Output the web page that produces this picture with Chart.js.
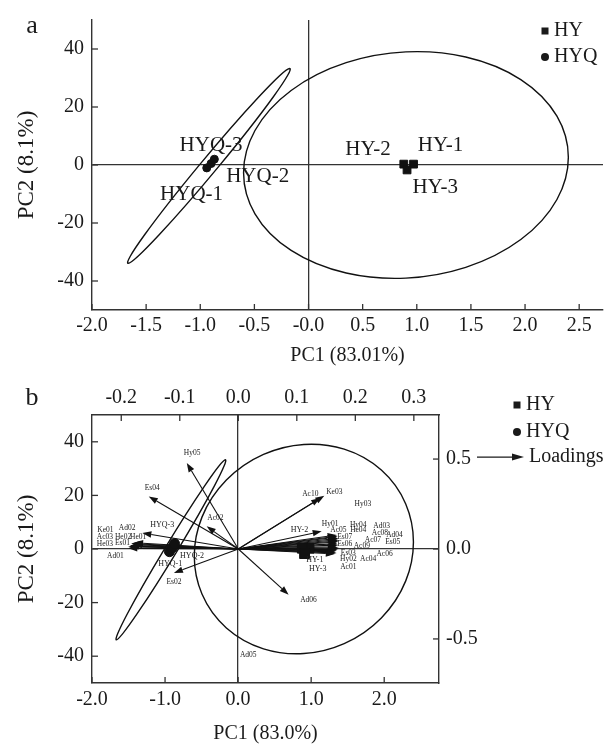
<!DOCTYPE html>
<html>
<head>
<meta charset="utf-8">
<script src="https://cdn.jsdelivr.net/npm/chart.js@4.4.1/dist/chart.umd.min.js"></script>
<style>
  html, body { margin: 0; padding: 0; background: #fff; }
  #wrap { position: relative; width: 610px; height: 747px; }
  canvas { position: absolute; left: 0; }
  #pca-a { top: 0; }
  #pca-b { top: 370px; }
</style>
</head>
<body>
<div id="wrap">
  <canvas id="pca-a" width="610" height="370"></canvas>
  <canvas id="pca-b" width="610" height="377"></canvas>
</div>
<script>
// sample scores (PC1, PC2)
const hyNames = ["HY-1", "HY-2", "HY-3"];
const hyPC1 = [0.97, 0.88, 0.91];
const hyPC2 = [0.3, 0.3, -1.7];
const hyqNames = ["HYQ-1", "HYQ-2", "HYQ-3"];
const hyqPC1 = [-0.94, -0.9, -0.87];
const hyqPC2 = [-1.0, 0.5, 2.0];

// confidence ellipses: centre and two conjugate half axes, in score units
const ellCx = [-0.92, 0.9];
const ellCy = [-0.3, 0];
const ellUx = [0.745, 1.5];
const ellUy = [33.6, 2.65];
const ellVx = [0.095, 0];
const ellVy = [0, 39];

// variable loadings (top / right axes)
const loadNames = ["Hy05", "Es04", "Ac02", "He01", "Es02", "Ke01", "Ad02", "Ac03", "He02", "He03", "Es01", "Ad01",
  "Ac10", "Ke03", "Hy03", "Hy01", "Ac05", "Hy04", "He04", "Ad03", "Ac08", "Ad04", "Es07", "Ac07", "Es06", "Ac09",
  "Es05", "Ac06", "Es03", "Hy02", "Ac04", "Ac01", "Ad06", "Ad05"];
const loadX = [-0.088, -0.153, -0.054, -0.164, -0.110, -0.183, -0.178, -0.185, -0.180, -0.188, -0.185, -0.188,
  0.140, 0.147, 0.213, 0.1425, 0.168, 0.170, 0.168, 0.171, 0.170, 0.172, 0.170, 0.169, 0.171, 0.168,
  0.172, 0.170, 0.168, 0.166, 0.168, 0.165, 0.086, 0.0];
const loadY = [0.478, 0.292, 0.126, 0.089, -0.133, 0.030, 0.035, 0.020, 0.025, 0.012, 0.016, 0.004,
  0.283, 0.296, 0.25, 0.098, 0.078, 0.072, 0.066, 0.060, 0.052, 0.046, 0.040, 0.030, 0.022, 0.012,
  0.006, -0.004, -0.010, -0.016, -0.022, -0.028, -0.254, -0.56];
const noArrow = ["Hy03", "Ad05"];

// where the names sit (loading units)
const loadLabX = [-0.079, -0.147, -0.039, -0.171, -0.110, -0.227, -0.190, -0.228, -0.197, -0.228, -0.198, -0.210,
  0.123, 0.164, 0.213, 0.157, 0.171, 0.205, 0.205, 0.245, 0.242, 0.267, 0.182, 0.230, 0.182, 0.211,
  0.264, 0.250, 0.188, 0.188, 0.222, 0.188, 0.120, 0.017];
const loadLabY = [0.535, 0.341, 0.174, 0.068, -0.186, 0.107, 0.118, 0.068, 0.068, 0.028, 0.033, -0.037,
  0.307, 0.314, 0.25, 0.139, 0.103, 0.135, 0.103, 0.126, 0.089, 0.079, 0.064, 0.052, 0.029, 0.018,
  0.037, -0.028, -0.022, -0.056, -0.056, -0.100, -0.282, -0.591];

// sample name positions (score units)
const hyLabA = [[1.22, 6.7], [0.55, 5.5], [1.17, -7.6]];
const hyqLabA = [[-1.08, -10.1], [-0.47, -4.1], [-0.9, 6.7]];
const hyLabB = [[1.05, -4.2], [0.84, 7.3], [1.09, -7.3]];
const hyqLabB = [[-0.93, -5.4], [-0.63, -2.5], [-1.04, 8.9]];

// tick values
const ticksAx = [-2.0, -1.5, -1.0, -0.5, 0.0, 0.5, 1.0, 1.5, 2.0, 2.5];
const ticksAy = [-40, -20, 0, 20, 40];
const ticksBx = [-2.0, -1.0, 0.0, 1.0, 2.0];
const ticksBy = [-40, -20, 0, 20, 40];
const ticksBx2 = [-0.2, -0.1, 0.0, 0.1, 0.2, 0.3];
const ticksBy2 = [-0.5, 0.0, 0.5];

const SERIF = "'Liberation Serif', 'Times New Roman', serif";
const INK = "#1a1a1a";
Chart.defaults.font.family = SERIF;
Chart.defaults.color = INK;

const toPoints = (xs, ys) => xs.map((x, i) => ({ x: x, y: ys[i] }));

const zeroGrid = {
  display: true,
  drawOnChartArea: true,
  drawTicks: false,
  lineWidth: 1.3,
  color: (c) => (c.tick && c.tick.value === 0 ? "#333" : "rgba(0,0,0,0)"),
};

const fixedTicks = (vals) => (s) => {
  s.ticks = vals.map((v) => ({ value: v }));
};

// short tick marks pointing into the plot
const inTicks = {
  id: "inTicks",
  afterDraw(chart) {
    const ctx = chart.ctx;
    const a = chart.chartArea;
    const len = 6;
    ctx.save();
    ctx.strokeStyle = "#333";
    ctx.lineWidth = 1.3;
    Object.values(chart.scales).forEach((s) => {
      s.ticks.forEach((t) => {
        const p = s.getPixelForValue(t.value);
        ctx.beginPath();
        if (s.position === "bottom") { ctx.moveTo(p, a.bottom); ctx.lineTo(p, a.bottom - len); }
        if (s.position === "top") { ctx.moveTo(p, a.top); ctx.lineTo(p, a.top + len); }
        if (s.position === "left") { ctx.moveTo(a.left, p); ctx.lineTo(a.left + len, p); }
        if (s.position === "right") { ctx.moveTo(a.right, p); ctx.lineTo(a.right - len, p); }
        ctx.stroke();
      });
    });
    ctx.restore();
  },
};

const ellipses = {
  id: "ellipses",
  beforeDatasetsDraw(chart) {
    const ctx = chart.ctx;
    const sx = chart.scales.x, sy = chart.scales.y;
    ctx.save();
    ctx.strokeStyle = "#111";
    ctx.lineWidth = 1.4;
    for (let i = 0; i < ellCx.length; i++) {
      const cx = sx.getPixelForValue(ellCx[i]);
      const cy = sy.getPixelForValue(ellCy[i]);
      const ux = sx.getPixelForValue(ellCx[i] + ellUx[i]) - cx;
      const uy = sy.getPixelForValue(ellCy[i] + ellUy[i]) - cy;
      const vx = sx.getPixelForValue(ellCx[i] + ellVx[i]) - cx;
      const vy = sy.getPixelForValue(ellCy[i] + ellVy[i]) - cy;
      ctx.beginPath();
      ctx.save();
      ctx.transform(ux, uy, vx, vy, cx, cy);
      ctx.arc(0, 0, 1, 0, 2 * Math.PI);
      ctx.restore();
      ctx.stroke();
    }
    ctx.restore();
  },
};

const arrows = {
  id: "arrows",
  beforeDatasetsDraw(chart) {
    const ctx = chart.ctx;
    const sx = chart.scales.x2, sy = chart.scales.y2;
    const ox = sx.getPixelForValue(0), oy = sy.getPixelForValue(0);
    ctx.save();
    ctx.strokeStyle = "#111";
    ctx.fillStyle = "#111";
    ctx.lineWidth = 1.1;
    loadNames.forEach((n, i) => {
      if (noArrow.includes(n)) return;
      const tx = sx.getPixelForValue(loadX[i]);
      const ty = sy.getPixelForValue(loadY[i]);
      const ang = Math.atan2(ty - oy, tx - ox);
      const hl = 9, hw = 3.2;
      const bx = tx - hl * Math.cos(ang), by = ty - hl * Math.sin(ang);
      ctx.beginPath();
      ctx.moveTo(ox, oy);
      ctx.lineTo(bx, by);
      ctx.stroke();
      ctx.beginPath();
      ctx.moveTo(tx, ty);
      ctx.lineTo(bx + hw * Math.sin(ang), by - hw * Math.cos(ang));
      ctx.lineTo(bx - hw * Math.sin(ang), by + hw * Math.cos(ang));
      ctx.closePath();
      ctx.fill();
    });
    ctx.restore();
  },
};

const drawText = (ctx, txt, x, y, size, align) => {
  ctx.font = size + "px " + SERIF;
  ctx.textAlign = align || "center";
  ctx.textBaseline = "middle";
  ctx.fillText(txt, x, y);
};

const scoreLabels = (hyLab, hyqLab, size) => ({
  id: "scoreLabels",
  afterDatasetsDraw(chart) {
    const ctx = chart.ctx;
    const sx = chart.scales.x, sy = chart.scales.y;
    ctx.save();
    ctx.fillStyle = INK;
    hyNames.forEach((n, i) => drawText(ctx, n, sx.getPixelForValue(hyLab[i][0]), sy.getPixelForValue(hyLab[i][1]), size));
    hyqNames.forEach((n, i) => drawText(ctx, n, sx.getPixelForValue(hyqLab[i][0]), sy.getPixelForValue(hyqLab[i][1]), size));
    ctx.restore();
  },
});

const loadLabels = {
  id: "loadLabels",
  afterDatasetsDraw(chart) {
    const ctx = chart.ctx;
    const sx = chart.scales.x2, sy = chart.scales.y2;
    ctx.save();
    ctx.fillStyle = INK;
    loadNames.forEach((n, i) => drawText(ctx, n, sx.getPixelForValue(loadLabX[i]), sy.getPixelForValue(loadLabY[i]), 7.5));
    ctx.restore();
  },
};

// panel letter + legend; pos = [letter y, legend marker x, HY row y, HYQ row y]
const decor = (letter, pos, withLoadings) => ({
  id: "decor",
  afterDraw(chart) {
    const ctx = chart.ctx;
    ctx.save();
    ctx.fillStyle = INK;
    ctx.strokeStyle = INK;
    drawText(ctx, letter, 32, pos[0], 26);
    ctx.fillRect(pos[1] - 3.5, pos[2] - 3.5, 7, 7);
    drawText(ctx, "HY", pos[1] + 9, pos[2], 20, "left");
    ctx.beginPath();
    ctx.arc(pos[1], pos[3], 4, 0, 2 * Math.PI);
    ctx.fill();
    drawText(ctx, "HYQ", pos[1] + 9, pos[3], 20, "left");
    if (withLoadings) {
      const y = chart.scales.y2.getPixelForValue(0.5) - 2;
      ctx.lineWidth = 1.2;
      ctx.beginPath();
      ctx.moveTo(477, y);
      ctx.lineTo(516, y);
      ctx.stroke();
      ctx.beginPath();
      ctx.moveTo(524, y);
      ctx.lineTo(512, y - 3.5);
      ctx.lineTo(512, y + 3.5);
      ctx.closePath();
      ctx.fill();
      drawText(ctx, "Loadings", 529, y, 20, "left");
    }
    ctx.restore();
  },
});

const axisFont = { size: 20 };
const titleFont = { size: 20 };
const yTitleFont = { size: 23 };

// ---- panel a ----
new Chart(document.getElementById("pca-a"), {
  type: "scatter",
  data: {
    datasets: [
      { label: "HY", data: toPoints(hyPC1, hyPC2), pointStyle: "rect", pointRadius: 5.5,
        backgroundColor: "#111", borderColor: "#111" },
      { label: "HYQ", data: toPoints(hyqPC1, hyqPC2), pointStyle: "circle", pointRadius: 4,
        backgroundColor: "#111", borderColor: "#111" },
    ],
  },
  options: {
    responsive: false,
    animation: false,
    layout: { padding: { top: 18, right: 7, left: 0, bottom: 0 } },
    plugins: { legend: { display: false }, tooltip: { enabled: false } },
    scales: {
      x: {
        type: "linear", min: -2, max: 2.72,
        afterBuildTicks: fixedTicks(ticksAx),
        afterFit: (s) => { s.height = 60; },
        grid: zeroGrid,
        border: { display: true, color: "#333", width: 1.4 },
        ticks: { font: axisFont, padding: 4, color: INK, maxRotation: 0,
          callback: (v) => (v === 0 ? "-0.0" : v.toFixed(1)) },
        title: { display: true, text: "PC1 (83.01%)", font: titleFont, color: INK, padding: { bottom: 2 } },
      },
      y: {
        type: "linear", min: -50, max: 50,
        afterBuildTicks: fixedTicks(ticksAy),
        afterFit: (s) => { s.width = 92; },
        grid: zeroGrid,
        border: { display: true, color: "#333", width: 1.4 },
        ticks: { font: axisFont, padding: 8, color: INK },
        title: { display: true, text: "PC2 (8.1%)", font: yTitleFont, color: INK, padding: { top: 13 } },
      },
    },
  },
  plugins: [ellipses, scoreLabels(hyLabA, hyqLabA, 21), inTicks, decor("a", [26, 545, 31, 57], false)],
});

// ---- panel b ----
new Chart(document.getElementById("pca-b"), {
  type: "scatter",
  data: {
    datasets: [
      { label: "HY", data: toPoints(hyPC1, hyPC2), pointStyle: "rect", pointRadius: 7,
        backgroundColor: "#111", borderColor: "#111" },
      { label: "HYQ", data: toPoints(hyqPC1, hyqPC2), pointStyle: "circle", pointRadius: 5,
        backgroundColor: "#111", borderColor: "#111" },
    ],
  },
  options: {
    responsive: false,
    animation: false,
    layout: { padding: 0 },
    plugins: { legend: { display: false }, tooltip: { enabled: false } },
    scales: {
      x: {
        type: "linear", position: "bottom", min: -2, max: 2.75,
        afterBuildTicks: fixedTicks(ticksBx),
        afterFit: (s) => { s.height = 64; },
        grid: zeroGrid,
        border: { display: true, color: "#333", width: 1.4 },
        ticks: { font: axisFont, padding: 5, color: INK, maxRotation: 0, callback: (v) => v.toFixed(1) },
        title: { display: true, text: "PC1 (83.0%)", font: titleFont, color: INK, padding: { bottom: 1 } },
      },
      x2: {
        type: "linear", position: "top", min: -0.25, max: 0.343,
        afterBuildTicks: fixedTicks(ticksBx2),
        afterFit: (s) => { s.height = 45; },
        grid: { display: false, drawTicks: false },
        border: { display: true, color: "#333", width: 1.4 },
        ticks: { font: axisFont, padding: 5, color: INK, maxRotation: 0, callback: (v) => v.toFixed(1) },
      },
      y: {
        type: "linear", position: "left", min: -50, max: 50,
        afterBuildTicks: fixedTicks(ticksBy),
        afterFit: (s) => { s.width = 92; },
        grid: zeroGrid,
        border: { display: true, color: "#333", width: 1.4 },
        ticks: { font: axisFont, padding: 8, color: INK },
        title: { display: true, text: "PC2 (8.1%)", font: yTitleFont, color: INK, padding: { top: 13 } },
      },
      y2: {
        type: "linear", position: "right", min: -0.745, max: 0.745,
        afterBuildTicks: fixedTicks(ticksBy2),
        afterFit: (s) => { s.width = 171; },
        grid: { display: false, drawTicks: false },
        border: { display: true, color: "#333", width: 1.4 },
        ticks: { font: axisFont, padding: 7, color: INK, callback: (v) => v.toFixed(1) },
      },
    },
  },
  plugins: [ellipses, arrows, scoreLabels(hyLabB, hyqLabB, 8), loadLabels, inTicks,
    decor("b", [28, 517, 35, 62], true)],
});
</script>
</body>
</html>
